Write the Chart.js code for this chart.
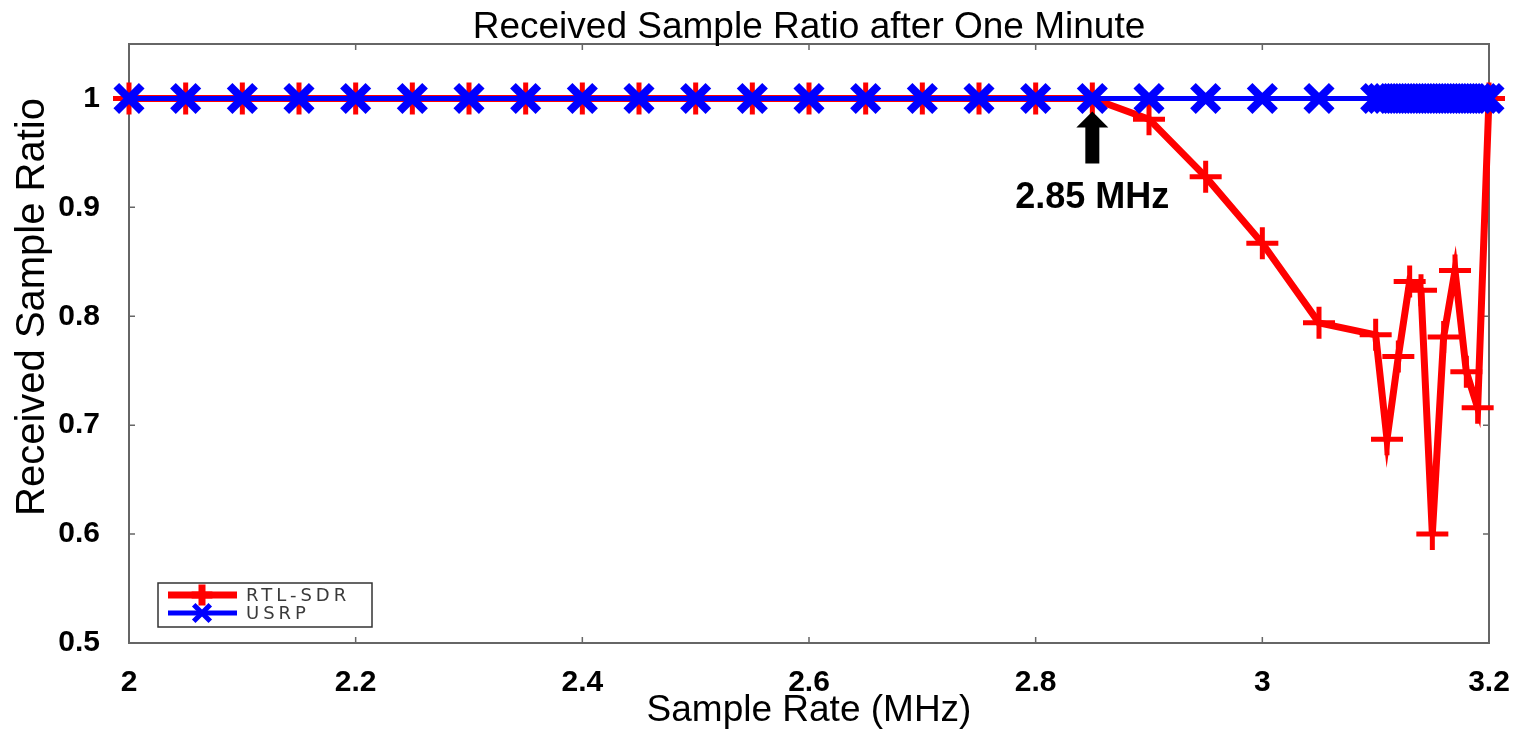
<!DOCTYPE html>
<html>
<head>
<meta charset="utf-8">
<script src="https://cdn.jsdelivr.net/npm/chart.js@4.4.1/dist/chart.umd.min.js"></script>
<style>
  html, body { margin: 0; padding: 0; background: #fff; overflow: hidden; }
  #wrap { width: 1518px; height: 729px; position: relative; }
  #ratioChart { display: block; }
</style>
</head>
<body>
<div id="wrap"><canvas id="ratioChart"></canvas></div>
<script>
const chartTitle = "Received Sample Ratio after One Minute";
const xTitle = "Sample Rate (MHz)";
const yTitle = "Received Sample Ratio";
const xTicks = [2, 2.2, 2.4, 2.6, 2.8, 3, 3.2];
const yTicks = [0.5, 0.6, 0.7, 0.8, 0.9, 1];

const rtlRates = [2.00, 2.05, 2.10, 2.15, 2.20, 2.25, 2.30, 2.35, 2.40, 2.45, 2.50, 2.55,
  2.60, 2.65, 2.70, 2.75, 2.80, 2.85, 2.90, 2.95, 3.00, 3.05,
  3.10, 3.11, 3.12, 3.13, 3.14, 3.15, 3.16, 3.17, 3.18, 3.19, 3.20];
const rtlRatio = [1, 1, 1, 1, 1, 1, 1, 1, 1, 1, 1, 1,
  1, 1, 1, 1, 1, 1, 0.981, 0.928, 0.867, 0.794,
  0.783, 0.687, 0.763, 0.832, 0.824, 0.600, 0.781, 0.842, 0.749, 0.716, 1.0];

const usrpRates = [2.00, 2.05, 2.10, 2.15, 2.20, 2.25, 2.30, 2.35, 2.40, 2.45, 2.50, 2.55,
  2.60, 2.65, 2.70, 2.75, 2.80, 2.85, 2.90, 2.95, 3.00, 3.05,
  3.100, 3.105, 3.110, 3.115, 3.120, 3.125, 3.130, 3.135, 3.140, 3.145, 3.150,
  3.155, 3.160, 3.165, 3.170, 3.175, 3.180, 3.185, 3.190, 3.195, 3.200];
const usrpRatio = [1, 1, 1, 1, 1, 1, 1, 1, 1, 1, 1, 1,
  1, 1, 1, 1, 1, 1, 1, 1, 1, 1,
  1, 1, 1, 1, 1, 1, 1, 1, 1, 1, 1,
  1, 1, 1, 1, 1, 1, 1, 1, 1, 1];

const markRate = 2.85;
const markLabel = "2.85 MHz";

const RED = "#ff0000";
const BLUE = "#0000ff";
const AXIS = "#666666";
const FONT = "'Liberation Sans', Arial, sans-serif";

// frame, inward ticks, titles, arrow note and legend (matlab style)
const figureDecor = {
  id: "figureDecor",
  beforeDatasetsDraw(chart) {
    const { ctx, chartArea: a, scales: { x, y } } = chart;
    ctx.save();
    ctx.strokeStyle = AXIS;
    ctx.lineWidth = 2;
    ctx.strokeRect(a.left, a.top, a.right - a.left, a.bottom - a.top);
    ctx.lineWidth = 1.5;
    ctx.beginPath();
    xTicks.forEach(v => {
      const px = x.getPixelForValue(v);
      ctx.moveTo(px, a.bottom); ctx.lineTo(px, a.bottom - 6);
      ctx.moveTo(px, a.top); ctx.lineTo(px, a.top + 6);
    });
    yTicks.forEach(v => {
      const py = y.getPixelForValue(v);
      ctx.moveTo(a.left, py); ctx.lineTo(a.left + 6, py);
      ctx.moveTo(a.right, py); ctx.lineTo(a.right - 6, py);
    });
    ctx.stroke();
    ctx.restore();
  },
  afterDatasetsDraw(chart) {
    const { ctx, chartArea: a, scales: { x, y } } = chart;
    ctx.save();

    // title
    ctx.fillStyle = "#000";
    ctx.font = "37px " + FONT;
    ctx.textAlign = "center";
    ctx.textBaseline = "alphabetic";
    ctx.fillText(chartTitle, (a.left + a.right) / 2, 38);

    // y axis title
    ctx.save();
    ctx.translate(44, 307);
    ctx.rotate(-Math.PI / 2);
    ctx.font = "40px " + FONT;
    ctx.fillText(yTitle, 0, 0);
    ctx.restore();

    // arrow + label
    const ax = x.getPixelForValue(markRate);
    const ay = y.getPixelForValue(1);
    ctx.fillStyle = "#000";
    ctx.beginPath();
    ctx.moveTo(ax, ay + 13);
    ctx.lineTo(ax + 16, ay + 29);
    ctx.lineTo(ax + 7, ay + 29);
    ctx.lineTo(ax + 7, ay + 65);
    ctx.lineTo(ax - 7, ay + 65);
    ctx.lineTo(ax - 7, ay + 29);
    ctx.lineTo(ax - 16, ay + 29);
    ctx.closePath();
    ctx.fill();
    ctx.font = "bold 36px " + FONT;
    ctx.fillText(markLabel, ax, ay + 110);

    // legend
    const lx = 158, ly = 583, lw = 214, lh = 44;
    ctx.fillStyle = "#fff";
    ctx.fillRect(lx, ly, lw, lh);
    ctx.strokeStyle = "#333";
    ctx.lineWidth = 1.5;
    ctx.strokeRect(lx, ly, lw, lh);
    chart.data.datasets.forEach((ds, i) => {
      const ry = ly + 12 + i * 18;
      ctx.strokeStyle = ds.borderColor;
      ctx.lineWidth = ds.borderWidth;
      ctx.beginPath();
      ctx.moveTo(lx + 10, ry);
      ctx.lineTo(lx + 79, ry);
      ctx.stroke();
      Chart.helpers.drawPoint(ctx, {
        pointStyle: ds.pointStyle,
        radius: ds.pointRadius * 0.65,
        borderWidth: ds.pointBorderWidth,
        rotation: 0
      }, lx + 44, ry);
      ctx.fillStyle = "#3a3a3a";
      ctx.font = "18px 'DejaVu Sans', sans-serif";
      ctx.letterSpacing = "4px";
      ctx.textAlign = "left";
      ctx.textBaseline = "middle";
      ctx.fillText(ds.label, lx + 88, ry + 1);
      ctx.letterSpacing = "0px";
    });
    ctx.restore();
  }
};

new Chart(document.getElementById("ratioChart"), {
  type: "line",
  data: {
    datasets: [
      {
        label: "RTL-SDR",
        data: rtlRates.map((r, i) => ({ x: r, y: rtlRatio[i] })),
        borderColor: RED,
        backgroundColor: RED,
        borderWidth: 7,
        pointStyle: "cross",
        pointRadius: 16,
        pointBorderWidth: 5,
        pointBorderColor: RED,
        tension: 0,
        clip: false,
        order: 2
      },
      {
        label: "USRP",
        data: usrpRates.map((r, i) => ({ x: r, y: usrpRatio[i] })),
        borderColor: BLUE,
        backgroundColor: BLUE,
        borderWidth: 5,
        pointStyle: "crossRot",
        pointRadius: 18,
        pointBorderWidth: 8,
        pointBorderColor: BLUE,
        tension: 0,
        clip: false,
        order: 1
      }
    ]
  },
  options: {
    responsive: true,
    maintainAspectRatio: false,
    animation: false,
    events: [],
    layout: { autoPadding: false, padding: { top: 44, right: 29, left: 0, bottom: 0 } },
    plugins: {
      legend: { display: false },
      title: { display: false },
      tooltip: { enabled: false }
    },
    scales: {
      x: {
        type: "linear",
        min: 2,
        max: 3.2,
        afterFit: s => { s.height = 86; s.paddingLeft = 0; s.paddingRight = 0; },
        afterBuildTicks: s => { s.ticks = xTicks.map(v => ({ value: v })); },
        grid: { display: false, drawTicks: false },
        border: { display: false },
        ticks: {
          color: "#000",
          padding: 22,
          maxRotation: 0,
          autoSkip: false,
          font: { family: FONT, size: 30, weight: "bold" },
          callback: v => String(v)
        },
        title: {
          display: true,
          text: xTitle,
          color: "#000",
          padding: 0,
          font: { family: FONT, size: 37, lineHeight: 1 }
        }
      },
      y: {
        type: "linear",
        min: 0.5,
        max: 1.05,
        afterFit: s => { s.width = 129; s.paddingTop = 0; s.paddingBottom = 0; },
        afterBuildTicks: s => { s.ticks = yTicks.map(v => ({ value: v })); },
        grid: { display: false, drawTicks: false },
        border: { display: false },
        ticks: {
          color: "#000",
          padding: 29,
          autoSkip: false,
          font: { family: FONT, size: 30, weight: "bold" },
          callback: v => String(v)
        }
      }
    }
  },
  plugins: [figureDecor]
});
</script>
</body>
</html>
